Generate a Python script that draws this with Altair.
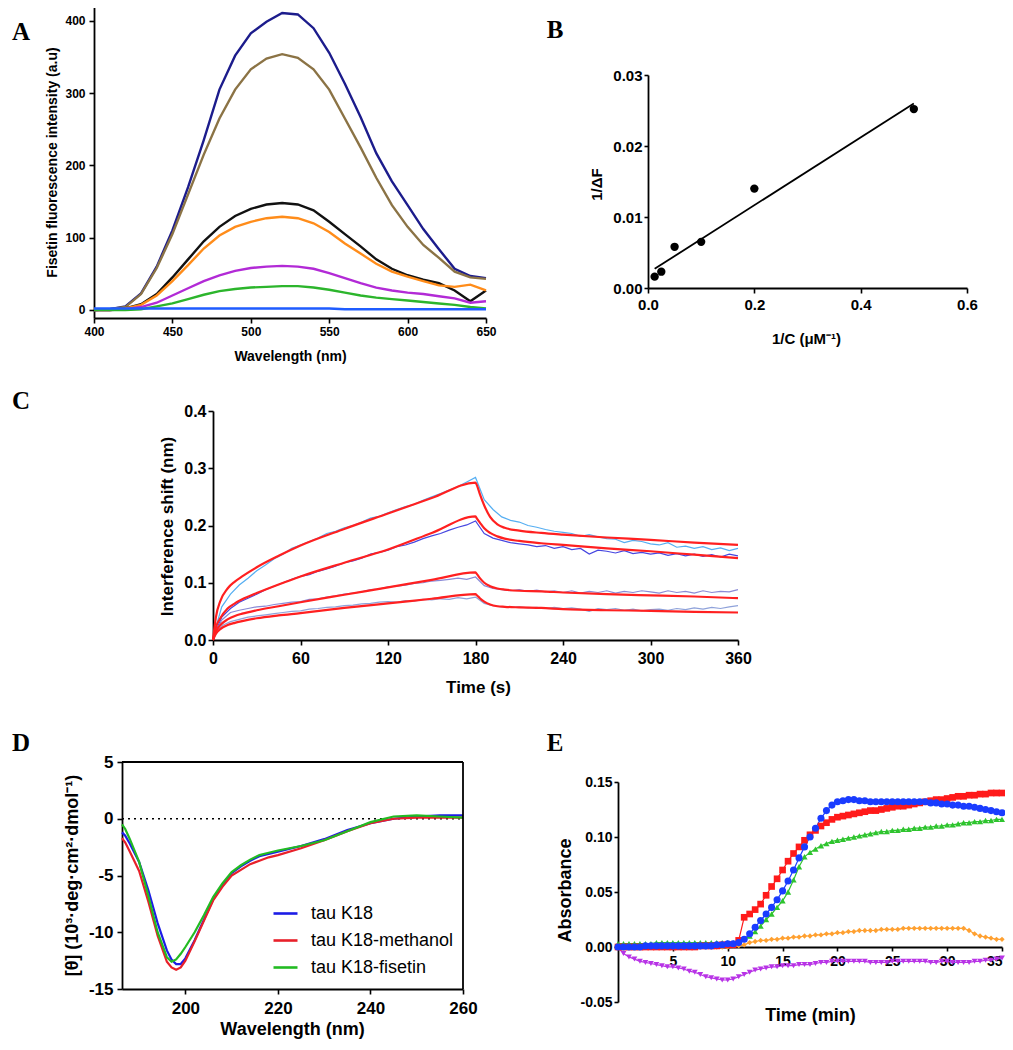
import altair as alt
import pandas as pd

W, H = 997, 1034
M = 8


def px(v):
    return v - M


SANS = "Liberation Sans, Arial, sans-serif"
SERIF = "Liberation Serif, Times New Roman, serif"

# ---------------- Panel A : fluorescence spectra ----------------
A_WL = [400, 410, 420, 430, 440, 450, 460, 470, 480, 490, 500, 510, 520,
        530, 540, 550, 560, 570, 580, 590, 600, 610, 620, 630, 640, 650]
A_NAMES = ["s1", "s2", "s3", "s4", "s5", "s6", "s7"]
A_COLORS = ["#1c1c8c", "#8b7345", "#111111", "#ff8c1a", "#b22ad6", "#2cb52c", "#1f5cff"]
A_NAVY = [0, 1, 5, 23, 60, 110, 170, 235, 305, 352, 383, 399, 411, 409, 390, 356,
          313, 267, 217, 178, 145, 112, 84, 57, 47, 44]
A_BROWN = [0, 1, 4, 22, 58, 105, 160, 215, 265, 305, 333, 348, 354, 349, 333, 305,
           265, 225, 183, 145, 115, 90, 72, 53, 45, 43]
A_BLACK = [0, 0, 2, 8, 22, 45, 70, 95, 115, 130, 140, 146, 148, 146, 138, 122,
           105, 88, 70, 57, 48, 42, 37, 27, 12, 27]
A_ORANGE = [0, 0, 2, 7, 20, 40, 62, 85, 103, 115, 122, 127, 129, 127, 120, 108,
            92, 78, 64, 53, 46, 40, 34, 32, 35, 27]
A_PURPLE = [0, 0, 1, 4, 10, 20, 30, 40, 48, 54, 58, 60, 61, 60, 57, 51,
            44, 37, 31, 27, 24, 22, 19, 16, 10, 12]
A_GREEN = [0, 0, 0, 1, 5, 9, 15, 21, 26, 29, 31, 32, 33, 33, 31, 28,
           24, 20, 17, 15, 13, 11, 9, 7, 4, 2]
A_BLUE = [2, 2, 2, 2, 2, 2, 2, 2, 2, 2, 2, 2, 2, 2, 2, 2,
          1, 1, 1, 1, 1, 1, 1, 1, 1, 1]
A_SERIES = [A_NAVY, A_BROWN, A_BLACK, A_ORANGE, A_PURPLE, A_GREEN, A_BLUE]

# ---------------- Panel B : double reciprocal ----------------
B_X = [0.0125, 0.025, 0.05, 0.1, 0.2, 0.5]
B_Y = [0.0016, 0.0023, 0.0058, 0.0065, 0.0140, 0.0252]
B_FIT_X = [0.0125, 0.5]
B_FIT_Y = [0.0027, 0.0260]

# ---------------- Panel C : BLI sensorgrams ----------------
C_T = [0, 6, 12, 18, 24, 30, 36, 42, 48, 54, 60, 66, 72, 78, 84, 90, 96, 102, 108,
       114, 120, 126, 132, 138, 144, 150, 156, 162, 168, 174, 180, 186, 192, 198,
       204, 210, 216, 222, 228, 234, 240, 246, 252, 258, 264, 270, 276, 282, 288,
       294, 300, 306, 312, 318, 324, 330, 336, 342, 348, 354, 360]
C_RAW1 = [0.005, 0.058, 0.080, 0.096, 0.108, 0.121, 0.131, 0.142, 0.150, 0.160,
          0.166, 0.172, 0.178, 0.186, 0.190, 0.196, 0.200, 0.206, 0.213, 0.216,
          0.222, 0.228, 0.233, 0.237, 0.244, 0.250, 0.256, 0.262, 0.268, 0.276,
          0.284, 0.245, 0.228, 0.215, 0.209, 0.206, 0.200, 0.197, 0.193, 0.190,
          0.188, 0.186, 0.181, 0.184, 0.180, 0.177, 0.176, 0.170, 0.174, 0.172,
          0.168, 0.166, 0.170, 0.162, 0.164, 0.160, 0.163, 0.158, 0.161, 0.156, 0.160]
C_RAW2 = [0.003, 0.040, 0.055, 0.066, 0.073, 0.080, 0.088, 0.094, 0.100, 0.106,
          0.111, 0.114, 0.120, 0.124, 0.129, 0.135, 0.138, 0.143, 0.150, 0.153,
          0.157, 0.163, 0.166, 0.171, 0.177, 0.182, 0.186, 0.192, 0.197, 0.201,
          0.208, 0.186, 0.178, 0.174, 0.170, 0.168, 0.166, 0.163, 0.165, 0.160,
          0.163, 0.158, 0.160, 0.150, 0.157, 0.155, 0.152, 0.156, 0.151, 0.153,
          0.150, 0.152, 0.148, 0.151, 0.147, 0.150, 0.146, 0.149, 0.145, 0.150, 0.147]
C_RAW3 = [0.004, 0.035, 0.048, 0.052, 0.055, 0.058, 0.059, 0.062, 0.064, 0.066,
          0.067, 0.071, 0.072, 0.075, 0.077, 0.080, 0.082, 0.084, 0.088, 0.089,
          0.093, 0.094, 0.096, 0.099, 0.100, 0.103, 0.104, 0.106, 0.108, 0.106,
          0.110, 0.095, 0.090, 0.088, 0.086, 0.088, 0.085, 0.087, 0.084, 0.086,
          0.083, 0.086, 0.082, 0.085, 0.083, 0.086, 0.082, 0.085, 0.083, 0.086,
          0.084, 0.082, 0.086, 0.083, 0.085, 0.082, 0.086, 0.083, 0.085, 0.084, 0.088]
C_RAW4 = [0.003, 0.025, 0.032, 0.036, 0.040, 0.042, 0.044, 0.046, 0.048, 0.050,
          0.051, 0.054, 0.055, 0.057, 0.058, 0.060, 0.061, 0.063, 0.064, 0.066,
          0.067, 0.066, 0.069, 0.068, 0.071, 0.070, 0.072, 0.071, 0.074, 0.072,
          0.075, 0.064, 0.060, 0.058, 0.057, 0.058, 0.056, 0.057, 0.055, 0.057,
          0.055, 0.056, 0.054, 0.050, 0.055, 0.053, 0.055, 0.052, 0.054, 0.051,
          0.053, 0.054, 0.052, 0.055, 0.053, 0.056, 0.054, 0.057, 0.055, 0.058, 0.060]
C_RAW_NAMES = ["r1", "r2", "r3", "r4"]
C_RAW_COLORS = ["#55aef2", "#4646e0", "#8a8ad6", "#8fa2da"]
C_FIT_T = [0, 2, 5, 10, 15, 20, 30, 45, 60, 90, 120, 150, 180,
           181, 183, 186, 190, 195, 200, 210, 225, 240, 270, 300, 330, 360]
C_FIT1 = [0, 0.040, 0.068, 0.090, 0.102, 0.111, 0.127, 0.147, 0.165, 0.194, 0.221, 0.248, 0.275,
          0.270, 0.255, 0.235, 0.215, 0.202, 0.196, 0.191, 0.187, 0.184, 0.179, 0.175, 0.170, 0.166]
C_FIT2 = [0, 0.022, 0.038, 0.055, 0.064, 0.071, 0.082, 0.097, 0.111, 0.135, 0.158, 0.187, 0.216,
          0.212, 0.205, 0.195, 0.187, 0.181, 0.177, 0.173, 0.169, 0.166, 0.160, 0.155, 0.149, 0.143]
C_FIT3 = [0, 0.015, 0.026, 0.036, 0.042, 0.046, 0.052, 0.059, 0.066, 0.079, 0.092, 0.105, 0.118,
          0.115, 0.108, 0.100, 0.094, 0.090, 0.088, 0.086, 0.085, 0.083, 0.080, 0.078, 0.076, 0.073]
C_FIT4 = [0, 0.011, 0.019, 0.026, 0.030, 0.033, 0.038, 0.043, 0.047, 0.056, 0.064, 0.072, 0.080,
          0.078, 0.073, 0.067, 0.062, 0.059, 0.058, 0.057, 0.056, 0.054, 0.052, 0.051, 0.049, 0.048]

# ---------------- Panel D : CD spectra ----------------
D_WL = [186.3, 187, 188, 190, 192, 194, 196, 197, 198, 199, 200, 202, 204, 206, 208,
        210, 212, 214, 216, 218, 220, 225, 230, 235, 240, 245, 250, 255, 260]
D_NAMES = ["tau K18", "tau K18-methanol", "tau K18-fisetin"]
D_COLORS = ["#1c1ce6", "#e8202a", "#22bb22"]
D_K18 = [-1.2, -1.5, -2.2, -3.8, -6.3, -9.2, -11.6, -12.4, -12.8, -12.8, -12.3, -10.7, -8.9,
         -7.1, -5.8, -4.8, -4.2, -3.7, -3.3, -3.1, -2.9, -2.4, -1.8, -1.0, -0.4, 0.0, 0.2, 0.3, 0.3]
D_METH = [-1.7, -2.1, -2.9, -4.6, -7.3, -10.3, -12.6, -13.1, -13.3, -13.1, -12.5, -10.8, -9.0,
          -7.2, -6.0, -5.0, -4.5, -4.0, -3.7, -3.4, -3.2, -2.6, -1.9, -1.1, -0.4, 0.0, 0.1, 0.1, 0.1]
D_FIS = [-0.5, -0.9, -1.8, -3.8, -6.8, -10.0, -12.2, -12.6, -12.4, -11.9, -11.3, -10.0, -8.5,
         -6.9, -5.7, -4.7, -4.1, -3.6, -3.2, -3.0, -2.8, -2.4, -1.9, -1.1, -0.3, 0.2, 0.3, 0.2, 0.1]

# ---------------- Panel E : turbidity kinetics ----------------
E_T = [0, 0.5, 1, 1.5, 2, 2.5, 3, 3.5, 4, 4.5, 5, 5.5, 6, 6.5, 7, 7.5, 8, 8.5, 9, 9.5,
       10, 10.5, 11, 11.5, 12, 12.5, 13, 13.5, 14, 14.5, 15, 15.5, 16, 16.5, 17, 17.5,
       18, 18.5, 19, 19.5, 20, 20.5, 21, 21.5, 22, 22.5, 23, 23.5, 24, 24.5, 25, 25.5,
       26, 26.5, 27, 27.5, 28, 28.5, 29, 29.5, 30, 30.5, 31, 31.5, 32, 32.5, 33, 33.5,
       34, 34.5, 35]
E_RED = [0.000, 0.000, 0.000, 0.000, 0.000, 0.000, 0.000, 0.000, 0.000, 0.000,
         0.000, 0.000, 0.000, 0.000, 0.000,
         0.001, 0.001, 0.001, 0.001, 0.002, 0.002, 0.002, 0.006,
         0.027, 0.030, 0.034, 0.039, 0.047, 0.055, 0.062, 0.070, 0.078, 0.085,
         0.091, 0.097, 0.102, 0.106, 0.110, 0.113, 0.116, 0.118, 0.119, 0.120,
         0.121, 0.122, 0.123, 0.124, 0.124, 0.125, 0.126, 0.127, 0.128, 0.128,
         0.129, 0.130, 0.131, 0.132, 0.133, 0.134, 0.134, 0.135, 0.136, 0.137,
         0.137, 0.138, 0.138, 0.139, 0.139, 0.140, 0.140, 0.140]
E_BLUE = [0.000, 0.000, 0.000, 0.000, 0.000, 0.001, 0.001, 0.001, 0.001, 0.001,
          0.001, 0.001, 0.001, 0.001, 0.001, 0.001, 0.001, 0.001, 0.002,
          0.002, 0.003, 0.003, 0.004,
          0.007, 0.012, 0.018, 0.024, 0.030, 0.036, 0.043, 0.051, 0.060, 0.070,
          0.081, 0.091, 0.100, 0.108, 0.117, 0.124, 0.129, 0.132, 0.133, 0.134,
          0.134, 0.133, 0.133, 0.132, 0.132, 0.132, 0.132, 0.132, 0.132, 0.132,
          0.132, 0.132, 0.132, 0.132, 0.131, 0.131, 0.130, 0.130, 0.129, 0.129,
          0.128, 0.128, 0.127, 0.126, 0.125, 0.124, 0.123, 0.122]
E_GREEN = [0.003, 0.003, 0.003, 0.003, 0.003, 0.003, 0.003, 0.004, 0.004, 0.004,
           0.004, 0.004, 0.004, 0.004, 0.004, 0.004, 0.004, 0.004, 0.004, 0.004,
           0.004, 0.004, 0.005,
           0.007, 0.010, 0.014, 0.019, 0.025, 0.030, 0.036, 0.042, 0.050, 0.061,
           0.073, 0.082, 0.086, 0.089, 0.092, 0.094, 0.096, 0.097, 0.098, 0.099,
           0.100, 0.101, 0.102, 0.103, 0.104, 0.105, 0.105, 0.106, 0.106, 0.107,
           0.107, 0.108, 0.108, 0.109, 0.109, 0.110, 0.110, 0.111, 0.111, 0.112,
           0.113, 0.113, 0.114, 0.114, 0.115, 0.115, 0.116, 0.116]
E_ORANGE = [0.000, 0.000, 0.000, 0.000, 0.000, 0.000, 0.000, 0.000, 0.000, 0.000,
            0.000, 0.000, 0.000, 0.000, 0.000, 0.000, 0.000, 0.000, 0.000, 0.000,
            0.000, 0.001, 0.001,
            0.002, 0.004, 0.005, 0.006, 0.006, 0.007, 0.007, 0.008, 0.008, 0.009,
            0.009, 0.010, 0.010, 0.011, 0.011, 0.012, 0.012, 0.013, 0.013, 0.014,
            0.014, 0.015, 0.015, 0.015, 0.015, 0.016, 0.016, 0.016, 0.016, 0.017,
            0.017, 0.017, 0.017, 0.017, 0.017, 0.017, 0.017, 0.017, 0.017, 0.017,
            0.017, 0.015, 0.012, 0.010, 0.009, 0.008, 0.007, 0.007]
E_PURPLE = [0.000, -0.006, -0.009, -0.011, -0.013, -0.014, -0.015, -0.016, -0.017, -0.018,
            -0.018, -0.019, -0.020, -0.022, -0.023, -0.025, -0.027, -0.028, -0.029, -0.030,
            -0.030, -0.029, -0.027,
            -0.025, -0.023, -0.021, -0.020, -0.019, -0.018, -0.018, -0.017, -0.017, -0.017,
            -0.016, -0.016, -0.016, -0.015, -0.014, -0.014, -0.013, -0.013, -0.013, -0.013,
            -0.013, -0.013, -0.013, -0.014, -0.014, -0.014, -0.014, -0.013, -0.013, -0.013,
            -0.013, -0.013, -0.013, -0.013, -0.014, -0.014, -0.013, -0.013, -0.014, -0.014,
            -0.014, -0.014, -0.013, -0.013, -0.012, -0.012, -0.011, -0.010]
E_NAMES = ["orange", "purple", "green", "red", "blue"]
E_COLORS = ["#ffa030", "#b833e6", "#2ec42e", "#ff1a1a", "#1a3cff"]
E_SHAPES = ["diamond", "triangle-down", "triangle-up", "square", "circle"]
E_SIZES = [28, 50, 50, 50, 50]
E_SERIES = [E_ORANGE, E_PURPLE, E_GREEN, E_RED, E_BLUE]


# ---------------- helpers ----------------
def sc(domain, r0, r1):
    return alt.Scale(domain=domain, range=[r0, r1], nice=False, zero=False)


def common(lab, tit):
    return dict(labelFont=SANS, titleFont=SANS, labelFontSize=lab, titleFontSize=tit,
                labelFontWeight="bold", titleFontWeight="bold", labelColor="black",
                titleColor="black", domainColor="black", tickColor="black",
                domainWidth=1.8, tickWidth=1.6, grid=False, labelFlush=False,
                labelOverlap=False, titleAlign="center", titleBaseline="middle")


def xaxis(axis_y, values, fmt, title, tx, ty, lab, tit, pad, tick=5, expr=None, flush=False):
    kw = common(lab, tit)
    kw.update(orient="bottom", offset=px(axis_y) - H, values=values, format=fmt,
              title=title, titleX=px(tx), titleY=ty - axis_y, titleAngle=0,
              labelPadding=pad, tickSize=tick, labelFlush=flush)
    if expr:
        kw["labelExpr"] = expr
    return alt.Axis(**kw)


def yaxis(axis_x, values, fmt, title, tx, ty, lab, tit, pad, tick=5, expr=None):
    kw = common(lab, tit)
    kw.update(orient="left", offset=-px(axis_x), values=values, format=fmt,
              title=title, titleX=tx - axis_x, titleY=px(ty), titleAngle=270,
              labelPadding=pad, tickSize=tick)
    if expr:
        kw["labelExpr"] = expr
    return alt.Axis(**kw)


HYPHEN = "replace(datum.label, '\u2212', '-')"

# ---------------- Panel A ----------------
dfA = pd.DataFrame([{"wl": w, "fi": v, "sa": n}
                    for n, vals in zip(A_NAMES, A_SERIES) for w, v in zip(A_WL, vals)])
xA = sc([400, 650], px(94), px(486))
yA = sc([-11, 421], px(317.9), px(5.8))
panelA = alt.Chart(dfA).mark_line(strokeWidth=2.4).encode(
    x=alt.X("wl:Q", scale=xA,
            axis=xaxis(318, [400, 450, 500, 550, 600, 650], "d", "Wavelength (nm)",
                       290, 356, 12, 14, 3)),
    y=alt.Y("fi:Q", scale=yA,
            axis=yaxis(94, [0, 100, 200, 300, 400], "d",
                       "Fisetin fluorescence intensity (a.u)", 52, 162, 12, 14, 4)),
    color=alt.Color("sa:N", scale=alt.Scale(domain=A_NAMES, range=A_COLORS), legend=None),
)

# ---------------- Panel B ----------------
dfB = pd.DataFrame({"ic": B_X, "idf": B_Y})
dfBf = pd.DataFrame({"ic": B_FIT_X, "idf": B_FIT_Y})
xB = sc([0, 0.6], px(648), px(967))
yB = sc([0, 0.03], px(288), px(75))
bLine = alt.Chart(dfBf).mark_line(color="black", strokeWidth=1.8).encode(
    x=alt.X("ic:Q", scale=xB,
            axis=xaxis(288, [0, 0.2, 0.4, 0.6], ".1f", "1/C (\u03bcM\u207b\u00b9)",
                       806, 338, 15, 15, 4)),
    y=alt.Y("idf:Q", scale=yB,
            axis=yaxis(648, [0, 0.01, 0.02, 0.03], ".2f", "1/\u0394F", 596, 184, 15, 15, 2,
                       tick=4)),
)
bPts = alt.Chart(dfB).mark_circle(color="black", size=70, opacity=1).encode(
    x=alt.X("ic:Q", scale=xB, axis=None),
    y=alt.Y("idf:Q", scale=yB, axis=None),
)

# ---------------- Panel C ----------------
dfCr = pd.DataFrame([{"t": t, "sh": v, "sr": n}
                     for n, vals in zip(C_RAW_NAMES, [C_RAW1, C_RAW2, C_RAW3, C_RAW4])
                     for t, v in zip(C_T, vals)])
dfCf = pd.DataFrame([{"t": t, "sh": v, "sf": n}
                     for n, vals in zip(["f1", "f2", "f3", "f4"], [C_FIT1, C_FIT2, C_FIT3, C_FIT4])
                     for t, v in zip(C_FIT_T, vals)])
xC = sc([0, 360], px(213), px(738))
yC = sc([0, 0.4], px(640), px(411))
cRaw = alt.Chart(dfCr).mark_line(strokeWidth=1.2).encode(
    x=alt.X("t:Q", scale=xC,
            axis=xaxis(640, [0, 60, 120, 180, 240, 300, 360], "d", "Time (s)",
                       478, 687, 16, 17, 5)),
    y=alt.Y("sh:Q", scale=yC,
            axis=yaxis(213, [0, 0.1, 0.2, 0.3, 0.4], ".1f", "Interference shift (nm)",
                       167, 526, 16, 17, 2)),
    color=alt.Color("sr:N", scale=alt.Scale(domain=C_RAW_NAMES, range=C_RAW_COLORS),
                    legend=None),
)
cFit = alt.Chart(dfCf).mark_line(color="#ff2020", strokeWidth=2.2,
                                 interpolate="monotone").encode(
    x=alt.X("t:Q", scale=xC, axis=None),
    y=alt.Y("sh:Q", scale=yC, axis=None),
    detail="sf:N",
)

# ---------------- Panel D ----------------
dfD = pd.DataFrame([{"w": w, "th": v, "ds": n}
                    for n, vals in zip(D_NAMES, [D_K18, D_METH, D_FIS])
                    for w, v in zip(D_WL, vals)])
dfFrame = pd.DataFrame({"fx": [186.3, 260], "fx2": [260, 260], "fy": [5, -15], "fy2": [5, 5]})
dfZero = pd.DataFrame({"fx": [186.3], "fx2": [260], "fy": [0], "fy2": [0]})
xD = sc([186.3, 260], px(122), px(463))
yD = sc([-15, 5], px(989), px(762))
dLines = alt.Chart(dfD).mark_line(strokeWidth=2.2).encode(
    x=alt.X("w:Q", scale=xD,
            axis=xaxis(989, [200, 220, 240, 260], "d", "Wavelength (nm)",
                       292, 1029, 17, 18, 6)),
    y=alt.Y("th:Q", scale=yD,
            axis=yaxis(122, [-15, -10, -5, 0, 5], "d",
                       "[\u03b8] (10\u00b3\u00b7deg\u00b7cm\u00b2\u00b7dmol\u207b\u00b9)",
                       72, 875, 17, 18, 4, expr=HYPHEN)),
    color=alt.Color("ds:N", scale=alt.Scale(domain=D_NAMES, range=D_COLORS),
                    legend=alt.Legend(orient="none", legendX=px(272), legendY=px(900),
                                      title=None, symbolType="stroke", symbolSize=576,
                                      symbolStrokeWidth=2.6, labelFont=SANS,
                                      labelFontSize=18, labelColor="black",
                                      labelOffset=12, rowPadding=4, padding=0)),
)
dFrame = alt.Chart(dfFrame).mark_rule(color="black", strokeWidth=1.8).encode(
    x=alt.X("fx:Q", scale=xD, axis=None), x2="fx2:Q",
    y=alt.Y("fy:Q", scale=yD, axis=None), y2="fy2:Q",
)
dZero = alt.Chart(dfZero).mark_rule(color="black", strokeWidth=1.4,
                                    strokeDash=[2, 4]).encode(
    x=alt.X("fx:Q", scale=xD, axis=None), x2="fx2:Q",
    y=alt.Y("fy:Q", scale=yD, axis=None),
)

# ---------------- Panel E ----------------
dfE = pd.DataFrame([{"tm": t, "ab": v, "se": n}
                    for n, vals in zip(E_NAMES, E_SERIES) for t, v in zip(E_T, vals)])
xE = sc([0, 35], px(618), px(1002))
yE = sc([-0.05, 0.15], px(1002), px(782))
eLines = alt.Chart(dfE).mark_line(strokeWidth=1.2).encode(
    x=alt.X("tm:Q", scale=xE,
            axis=xaxis(947, [5, 10, 15, 20, 25, 30, 35], "d", "Time (min)",
                       810, 1015, 14, 18, 3, tick=4, flush=True)),
    y=alt.Y("ab:Q", scale=yE,
            axis=yaxis(618, [-0.05, 0, 0.05, 0.10, 0.15], ".2f", "Absorbance",
                       565, 890, 14, 18, 2, tick=4, expr=HYPHEN)),
    color=alt.Color("se:N", scale=alt.Scale(domain=E_NAMES, range=E_COLORS), legend=None),
)
ePts = alt.Chart(dfE).mark_point(filled=True, opacity=1).encode(
    x=alt.X("tm:Q", scale=xE, axis=None),
    y=alt.Y("ab:Q", scale=yE, axis=None),
    color=alt.Color("se:N", scale=alt.Scale(domain=E_NAMES, range=E_COLORS), legend=None),
    shape=alt.Shape("se:N", scale=alt.Scale(domain=E_NAMES, range=E_SHAPES), legend=None),
    size=alt.Size("se:N", scale=alt.Scale(domain=E_NAMES, range=E_SIZES), legend=None),
)

# ---------------- panel letters ----------------
letters = []
for txt, lx, ly in [("A", 21, 32), ("B", 555, 30), ("C", 21, 401), ("D", 21, 743), ("E", 555, 743)]:
    letters.append(
        alt.Chart(pd.DataFrame({"k": [0]})).mark_text(
            text=txt, font=SERIF, fontSize=25, fontWeight="bold", color="black",
            align="center", baseline="middle"
        ).encode(x=alt.value(px(lx)), y=alt.value(px(ly)))
    )

chart = alt.layer(
    panelA, bLine, bPts, cRaw, cFit, dZero, dLines, dFrame, eLines, ePts, *letters
).resolve_scale(
    x="independent", y="independent", color="independent",
    shape="independent", size="independent"
).resolve_axis(
    x="independent", y="independent"
).resolve_legend(
    color="independent", shape="independent", size="independent"
).properties(
    width=W, height=H, padding=0, autosize=alt.AutoSizeParams(type="none"),
    background="white"
).configure_view(stroke=None)

chart.save("out.html", embed_options={"renderer": "svg", "actions": False})
